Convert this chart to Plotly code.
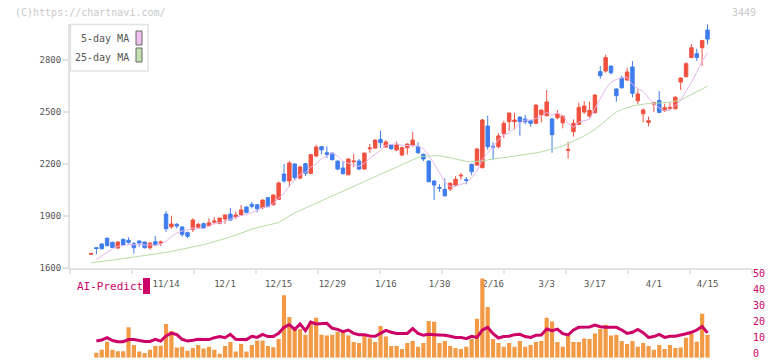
import plotly.graph_objects as go

W, H = 772, 361

# ---- data ----
opens = [1679, 1717, 1738, 1771, 1748, 1715, 1765, 1760, 1740, 1756,
         1750, 1717, 1752, 1744, 1911, 1838, 1852, 1837, 1804, 1823,
         1835, 1856, 1844, 1864, 1858, 1883, 1911, 1894, 1906, 1952,
         1967, 1965, 1948, 2006, 1965, 1996, 2142, 2102, 2200, 2119,
         2202, 2146, 2246, 2300, 2265, 2263, 2217, 2177, 2138, 2213,
         2217, 2171, 2288, 2292, 2342, 2298, 2310, 2281, 2252, 2294,
         2309, 2300, 2256, 2217, 2102, 2065, 2054, 2056, 2079, 2131,
         2110, 2198, 2194, 2179, 2419, 2302, 2300, 2375, 2444, 2444,
         2471, 2460, 2450, 2435, 2485, 2479, 2460, 2467, 2438, 2279,
         2387, 2429, 2500, 2477, 2496, 2733, 2737, 2765, 2633, 2696,
         2685, 2760, 2565, 2490, 2440, 2545, 2567, 2508, 2521, 2519,
         2673, 2704, 2815, 2837, 2871, 2973]
highs = [1684, 1718, 1744, 1779, 1752, 1752, 1771, 1777, 1750, 1758,
         1752, 1748, 1785, 1758, 1929, 1902, 1860, 1840, 1810, 1887,
         1860, 1862, 1887, 1892, 1890, 1910, 1946, 1925, 1963, 1956,
         1981, 1969, 1996, 2010, 2025, 2100, 2200, 2217, 2204, 2192,
         2206, 2258, 2311, 2304, 2302, 2267, 2221, 2215, 2233, 2259,
         2229, 2265, 2315, 2342, 2392, 2338, 2315, 2329, 2300, 2319,
         2386, 2325, 2260, 2221, 2106, 2083, 2117, 2094, 2130, 2148,
         2125, 2203, 2290, 2460, 2479, 2325, 2378, 2450, 2498, 2496,
         2475, 2483, 2454, 2544, 2515, 2627, 2467, 2511, 2481, 2329,
         2458, 2554, 2563, 2560, 2602, 2765, 2831, 2769, 2637, 2710,
         2756, 2794, 2631, 2521, 2473, 2556, 2621, 2548, 2554, 2592,
         2700, 2787, 2892, 2865, 2917, 3006]
lows = [1678, 1679, 1708, 1725, 1715, 1712, 1730, 1740, 1683, 1723,
        1713, 1706, 1727, 1727, 1808, 1827, 1829, 1781, 1773, 1808,
        1827, 1825, 1840, 1852, 1852, 1855, 1873, 1883, 1902, 1915,
        1944, 1921, 1940, 1950, 1960, 1992, 2092, 2069, 2108, 2112,
        2131, 2142, 2242, 2256, 2235, 2221, 2163, 2140, 2135, 2183,
        2165, 2167, 2265, 2288, 2292, 2292, 2283, 2275, 2246, 2254,
        2300, 2260, 2217, 2094, 1992, 2040, 2010, 2044, 2071, 2110,
        2083, 2135, 2190, 2175, 2283, 2225, 2290, 2350, 2390, 2400,
        2363, 2429, 2415, 2431, 2440, 2475, 2265, 2458, 2406, 2231,
        2358, 2425, 2490, 2467, 2492, 2692, 2727, 2717, 2560, 2635,
        2680, 2585, 2546, 2440, 2417, 2500, 2494, 2500, 2510, 2515,
        2627, 2700, 2810, 2794, 2767, 2890]
closes = [1683, 1713, 1711, 1729, 1719, 1750, 1734, 1748, 1717, 1744,
          1717, 1744, 1733, 1750, 1827, 1854, 1842, 1794, 1783, 1877,
          1852, 1831, 1861, 1871, 1888, 1906, 1877, 1906, 1935, 1921,
          1956, 1942, 1992, 1954, 2021, 2090, 2102, 2206, 2121, 2183,
          2146, 2254, 2298, 2282, 2256, 2225, 2171, 2144, 2229, 2217,
          2171, 2263, 2292, 2338, 2323, 2327, 2288, 2310, 2294, 2315,
          2338, 2265, 2229, 2098, 2079, 2061, 2017, 2089, 2112, 2135,
          2106, 2156, 2287, 2454, 2300, 2298, 2362, 2435, 2494, 2454,
          2444, 2444, 2435, 2540, 2511, 2558, 2369, 2490, 2477, 2283,
          2435, 2527, 2535, 2510, 2598, 2710, 2814, 2727, 2594, 2640,
          2731, 2608, 2604, 2512, 2450, 2554, 2498, 2525, 2525, 2585,
          2696, 2779, 2871, 2815, 2912, 2921]

ma5 = [None, 1650, 1668, 1690, 1711.0, 1724.4, 1728.6, 1736.0, 1733.6, 1738.6,
       1732.0, 1734.0, 1731.0, 1737.6, 1754.2, 1781.6, 1801.2, 1813.4, 1820.0, 1830.0,
       1829.6, 1827.4, 1840.8, 1858.4, 1860.6, 1871.4, 1880.6, 1889.6, 1902.4, 1909.0,
       1919.0, 1932.0, 1949.2, 1953.0, 1973.0, 1999.8, 2031.8, 2074.6, 2108.0, 2140.4,
       2151.6, 2182.0, 2200.4, 2232.6, 2247.2, 2263.0, 2246.4, 2215.6, 2205.0, 2197.2,
       2186.4, 2204.8, 2234.4, 2256.2, 2277.4, 2308.6, 2313.6, 2317.2, 2308.4, 2306.8,
       2309.0, 2304.4, 2288.2, 2249.0, 2201.8, 2146.4, 2096.8, 2068.8, 2071.6, 2082.8,
       2091.8, 2119.6, 2159.2, 2227.6, 2260.6, 2299.0, 2340.2, 2369.8, 2377.8, 2408.6,
       2437.8, 2454.2, 2454.2, 2463.4, 2474.8, 2497.6, 2482.6, 2493.6, 2481.0, 2435.4,
       2410.8, 2442.4, 2451.4, 2458.0, 2521.0, 2576.0, 2633.4, 2671.8, 2688.6, 2697.0,
       2701.2, 2660.0, 2635.4, 2619.0, 2581.0, 2545.6, 2523.6, 2507.8, 2510.4, 2537.4,
       2565.8, 2622.0, 2671.2, 2729.2, 2794.6, 2839.6]

ma25 = [1630, 1633, 1637, 1641, 1645, 1650, 1654, 1658, 1662, 1666,
        1670, 1674, 1679, 1684, 1690, 1696, 1702, 1708, 1714, 1721,
        1728, 1735, 1743, 1751, 1759, 1767, 1779, 1790, 1802, 1814,
        1824, 1833, 1841, 1848, 1856, 1862, 1882, 1902, 1918, 1932,
        1946, 1960, 1974, 1988, 2002, 2016, 2031, 2045, 2060, 2074,
        2088, 2102, 2116, 2130, 2144, 2158, 2172, 2186, 2200, 2214,
        2228, 2238, 2244, 2247, 2248, 2247, 2243, 2236, 2229, 2222,
        2216, 2213, 2214, 2218, 2224, 2230, 2234, 2237, 2241, 2245,
        2250, 2255, 2259, 2264, 2270, 2277, 2285, 2294, 2305, 2318,
        2333, 2347, 2362, 2380, 2400, 2425, 2450, 2477, 2500, 2515,
        2527, 2535, 2541, 2546, 2549, 2550, 2551, 2553, 2557, 2563,
        2571, 2585, 2600, 2617, 2633, 2650]

ai_bars = [None, 3.1, 5, 10, 5, 4, 4, 19, 8, 3.8,
           3, 5, 7.3, 7.5, 21, 16.7, 6.3, 6.8, 4.4, 6,
           8, 5.7, 6.8, 5, 2.5, 7.3, 9.8, 3.8, 8.6, 3.8,
           8, 10.7, 10.7, 7.3, 6.5, 11.7, 39, 25.4, 18.8, 18,
           14.4, 23, 25, 14.4, 13.8, 14.4, 16.2, 15.6, 13.8, 9.8,
           9.2, 14.4, 12.2, 9.8, 19.8, 13.2, 7.3, 7.3, 5.5, 9.2,
           10.4, 6.8, 9.2, 23, 22.4, 9.2, 10.4, 7.3, 6, 5.5,
           6.8, 11.7, 24.4, 49.5, 31.7, 11.7, 9.2, 6.8, 9.2, 6.8,
           10.4, 6.8, 8, 9.8, 10.4, 25, 22.6, 9.8, 6.8, 14.4,
           9.8, 9.8, 12, 11.7, 15.2, 18, 20.6, 13.8, 14.4, 10.4,
           8.6, 10.4, 6.8, 9.2, 7.3, 5, 8, 5.5, 8, 6,
           6.3, 12.5, 15.2, 10, 27.5, 14.2]

ai_line = [None, 10.4, 11.1, 12.5, 10.7, 10.0, 10.0, 11.3, 11.3, 10.7,
           10.2, 10.2, 11.5, 10.4, 13.6, 15.4, 14.4, 11.5, 10.4, 10.9,
           11.5, 11.3, 11.3, 12.5, 13.2, 12.5, 14.6, 11.5, 11.3, 11.3,
           13.4, 12.7, 14.6, 13.2, 13.2, 15.2, 19.0, 20.6, 17.7, 21.1,
           16.9, 22.3, 21.1, 21.1, 21.5, 18.4, 17.7, 16.3, 17.3, 15.2,
           14.4, 14.4, 13.6, 13.4, 15.2, 17.1, 15.9, 15.2, 15.2, 15.2,
           18.2, 15.2, 14.0, 14.6, 14.4, 14.4, 14.0, 13.4, 12.7, 12.7,
           11.9, 13.4, 12.7, 17.3, 19.0, 15.0, 12.3, 13.2, 13.4, 14.4,
           14.6, 13.2, 12.7, 14.0, 14.2, 17.9, 16.9, 17.9, 15.0, 14.2,
           17.3, 19.0, 19.0, 19.2, 20.4, 19.4, 19.0, 19.0, 19.0, 17.3,
           15.2, 15.9, 17.7, 15.6, 12.7, 13.2, 14.6, 12.7, 13.4, 13.4,
           14.4, 15.0, 15.9, 17.3, 19.5, 15.5]

tick_idx = [14, 25, 35, 45, 55, 65, 75, 85, 94, 105, 115]
tick_labels = ["11/14", "12/1", "12/15", "12/29", "1/16", "1/30",
               "2/16", "3/3", "3/17", "4/1", "4/15"]
price_ticks = [1600, 1900, 2200, 2500, 2800]
ai_ticks = [0, 10, 20, 30, 40, 50]

idx = list(range(len(closes)))

# ---- helpers: page pixel -> paper fraction ----
def px(x):
    return x / W

def py(y):
    return 1 - y / H

FONT = "DejaVu Sans Mono"
RED = "#f0513f"
BLUE = "#3f7ded"
MAG = "#cc0066"

fig = go.Figure()

fig.add_trace(go.Scatter(x=idx, y=ma25, mode="lines",
                         line=dict(color="#b6dca6", width=1),
                         hoverinfo="skip", xaxis="x", yaxis="y"))
fig.add_trace(go.Scatter(x=idx, y=ma5, mode="lines",
                         line=dict(color="#e6b6ee", width=1),
                         hoverinfo="skip", xaxis="x", yaxis="y"))
fig.add_trace(go.Candlestick(
    x=idx, open=opens, high=highs, low=lows, close=closes,
    increasing=dict(line=dict(color=RED, width=1), fillcolor=RED),
    decreasing=dict(line=dict(color=BLUE, width=1), fillcolor=BLUE),
    whiskerwidth=0, xaxis="x", yaxis="y"))

fig.add_trace(go.Bar(x=idx, y=ai_bars, marker=dict(color="#f29a45", line=dict(width=0)),
                     width=0.78, xaxis="x2", yaxis="y2", hoverinfo="skip"))
fig.add_trace(go.Scatter(x=idx, y=ai_line, mode="lines",
                         line=dict(color=MAG, width=3),
                         xaxis="x2", yaxis="y2", hoverinfo="skip"))
# dummy trace so the tick-mark axis is drawn
fig.add_trace(go.Scatter(x=[None], y=[None], xaxis="x3", yaxis="y",
                         hoverinfo="skip", mode="markers"))

xdom = [px(70), px(752)]
xrange = [-3.92, 123.3]

fig.update_layout(
    width=W, height=H,
    margin=dict(l=0, r=0, t=0, b=0),
    paper_bgcolor="white", plot_bgcolor="white",
    showlegend=False,
    boxgap=0.08,
    font=dict(family=FONT, color="#555", size=9),
    xaxis=dict(domain=xdom, range=xrange, anchor="y",
               showgrid=False, zeroline=False,
               showline=True, linecolor="#e2e2e2", linewidth=2,
               tickmode="array", tickvals=tick_idx, ticktext=tick_labels,
               ticks="outside", ticklen=6, tickcolor="rgba(0,0,0,0)",
               tickfont=dict(family=FONT, size=9, color="#555"),
               rangeslider=dict(visible=False), automargin=False,
               fixedrange=True),
    xaxis3=dict(overlaying="x", anchor="y", range=[0, 11],
                tickmode="array", tickvals=list(range(12)),
                showticklabels=False, ticks="outside", ticklen=5,
                tickcolor="#e2e2e2", tickwidth=2,
                showgrid=False, zeroline=False, showline=False,
                domain=xdom, automargin=False),
    yaxis=dict(domain=[py(268), py(24)], range=[1600, 3008], anchor="x",
               showgrid=False, zeroline=False,
               showline=True, linecolor="#e2e2e2", linewidth=2,
               tickmode="array", tickvals=price_ticks,
               ticks="outside", ticklen=5, tickcolor="#e2e2e2", tickwidth=2,
               tickfont=dict(family=FONT, size=9, color="#555"),
               automargin=False),
    xaxis2=dict(domain=xdom, range=xrange, anchor="y2", matches="x",
                showgrid=False, zeroline=False, showline=False,
                showticklabels=False, ticks="", automargin=False),
    yaxis2=dict(domain=[py(357.7), py(277.7)], range=[0, 50], anchor="x2",
                side="right", showgrid=False, zeroline=False, showline=False,
                tickmode="array", tickvals=ai_ticks, ticks="",
                ticklabeloverflow="allow", ticklabelshift=-4,
                tickfont=dict(family=FONT, size=10, color=MAG),
                automargin=False),
)

shapes = [
    # legend box
    dict(type="rect", xref="paper", yref="paper",
         x0=px(70.5), x1=px(148), y0=py(71), y1=py(24.5),
         line=dict(color="#e2e2e2", width=1.5), fillcolor="white", layer="above"),
    dict(type="rect", xref="paper", yref="paper",
         x0=px(136), x1=px(142), y0=py(45), y1=py(31),
         line=dict(color="#666", width=1), fillcolor="#f0c0f0", layer="above"),
    dict(type="rect", xref="paper", yref="paper",
         x0=px(136), x1=px(142), y0=py(62), y1=py(48),
         line=dict(color="#666", width=1), fillcolor="#c2e2b2", layer="above"),
    # AI-Predict swatch
    dict(type="rect", xref="paper", yref="paper",
         x0=px(143), x1=px(150), y0=py(294), y1=py(278),
         line=dict(width=0), fillcolor=MAG),
]

annotations = [
    dict(text="(C)https://chartnavi.com/", xref="paper", yref="paper",
         x=px(13), y=py(12), xanchor="left", yanchor="middle", showarrow=False,
         font=dict(family=FONT, size=10, color="#c8c8c8")),
    dict(text="3449", xref="paper", yref="paper",
         x=px(758), y=py(12), xanchor="right", yanchor="middle", showarrow=False,
         font=dict(family=FONT, size=10, color="#c8c8c8")),
    dict(text="5-day MA", xref="paper", yref="paper",
         x=px(131), y=py(39), xanchor="right", yanchor="middle", showarrow=False,
         font=dict(family=FONT, size=10, color="#555")),
    dict(text="25-day MA", xref="paper", yref="paper",
         x=px(131), y=py(57), xanchor="right", yanchor="middle", showarrow=False,
         font=dict(family=FONT, size=10, color="#555")),
    dict(text="AI-Predict", xref="paper", yref="paper",
         x=px(75), y=py(286), xanchor="left", yanchor="middle", showarrow=False,
         font=dict(family=FONT, size=11, color=MAG)),
]

fig.update_layout(shapes=shapes, annotations=annotations)

# remove the browser's default 8px body margin so the figure sits at the page origin
fig.write_html("out.html",
               config={"displayModeBar": False},
               post_script="document.body.style.margin='0px';document.body.style.overflow='hidden';")
